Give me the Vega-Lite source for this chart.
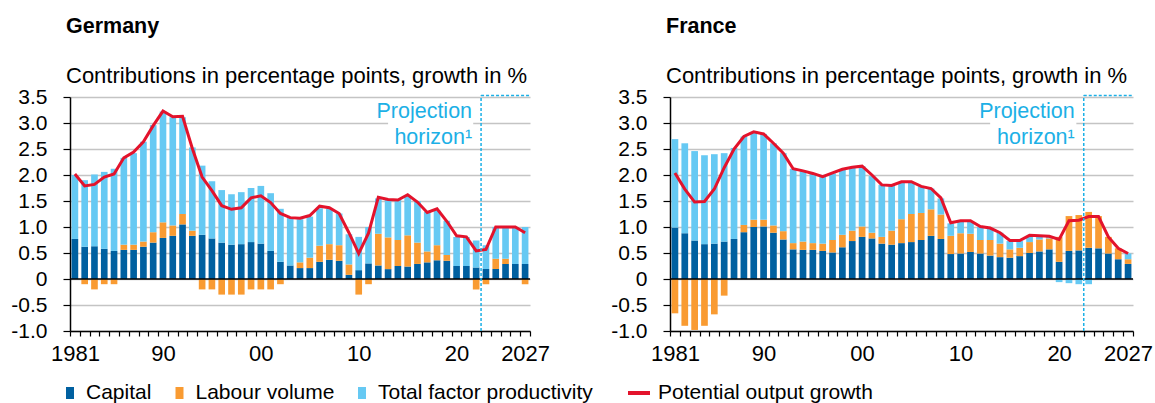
{
  "$schema": "https://vega.github.io/schema/vega-lite/v6.json",
  "background": "white",
  "padding": {"left": 10, "top": 15, "right": 0, "bottom": 0},
  "datasets": {
    "pg": [
      {"country":"Germany","year":1981,"Capital":0.77,"Labour volume":0,"Total factor productivity":1.23,"growth":2.02},
      {"country":"Germany","year":1982,"Capital":0.62,"Labour volume":-0.1,"Total factor productivity":1.28,"growth":1.79},
      {"country":"Germany","year":1983,"Capital":0.63,"Labour volume":-0.2,"Total factor productivity":1.38,"growth":1.82},
      {"country":"Germany","year":1984,"Capital":0.58,"Labour volume":-0.1,"Total factor productivity":1.48,"growth":1.96},
      {"country":"Germany","year":1985,"Capital":0.54,"Labour volume":-0.1,"Total factor productivity":1.58,"growth":2.02},
      {"country":"Germany","year":1986,"Capital":0.56,"Labour volume":0.1,"Total factor productivity":1.67,"growth":2.33},
      {"country":"Germany","year":1987,"Capital":0.56,"Labour volume":0.1,"Total factor productivity":1.76,"growth":2.44},
      {"country":"Germany","year":1988,"Capital":0.62,"Labour volume":0.1,"Total factor productivity":1.92,"growth":2.64},
      {"country":"Germany","year":1989,"Capital":0.70,"Labour volume":0.2,"Total factor productivity":2.06,"growth":2.95},
      {"country":"Germany","year":1990,"Capital":0.79,"Labour volume":0.3,"Total factor productivity":2.13,"growth":3.23},
      {"country":"Germany","year":1991,"Capital":0.83,"Labour volume":0.2,"Total factor productivity":2.08,"growth":3.12},
      {"country":"Germany","year":1992,"Capital":1.05,"Labour volume":0.2,"Total factor productivity":1.86,"growth":3.13},
      {"country":"Germany","year":1993,"Capital":0.83,"Labour volume":0.1,"Total factor productivity":1.60,"growth":2.51},
      {"country":"Germany","year":1994,"Capital":0.85,"Labour volume":-0.2,"Total factor productivity":1.33,"growth":1.96},
      {"country":"Germany","year":1995,"Capital":0.78,"Labour volume":-0.2,"Total factor productivity":1.10,"growth":1.70},
      {"country":"Germany","year":1996,"Capital":0.70,"Labour volume":-0.3,"Total factor productivity":1.01,"growth":1.41},
      {"country":"Germany","year":1997,"Capital":0.66,"Labour volume":-0.3,"Total factor productivity":0.97,"growth":1.34},
      {"country":"Germany","year":1998,"Capital":0.67,"Labour volume":-0.3,"Total factor productivity":1.00,"growth":1.37},
      {"country":"Germany","year":1999,"Capital":0.71,"Labour volume":-0.2,"Total factor productivity":1.04,"growth":1.56},
      {"country":"Germany","year":2000,"Capital":0.68,"Labour volume":-0.2,"Total factor productivity":1.11,"growth":1.60},
      {"country":"Germany","year":2001,"Capital":0.54,"Labour volume":-0.2,"Total factor productivity":1.11,"growth":1.47},
      {"country":"Germany","year":2002,"Capital":0.33,"Labour volume":-0.1,"Total factor productivity":1.02,"growth":1.26},
      {"country":"Germany","year":2003,"Capital":0.26,"Labour volume":0,"Total factor productivity":0.92,"growth":1.18},
      {"country":"Germany","year":2004,"Capital":0.21,"Labour volume":0.11,"Total factor productivity":0.83,"growth":1.17},
      {"country":"Germany","year":2005,"Capital":0.21,"Labour volume":0.20,"Total factor productivity":0.79,"growth":1.22},
      {"country":"Germany","year":2006,"Capital":0.33,"Labour volume":0.31,"Total factor productivity":0.72,"growth":1.40},
      {"country":"Germany","year":2007,"Capital":0.37,"Labour volume":0.30,"Total factor productivity":0.68,"growth":1.37},
      {"country":"Germany","year":2008,"Capital":0.35,"Labour volume":0.30,"Total factor productivity":0.61,"growth":1.26},
      {"country":"Germany","year":2009,"Capital":0.08,"Labour volume":0.20,"Total factor productivity":0.58,"growth":0.89},
      {"country":"Germany","year":2010,"Capital":0.17,"Labour volume":-0.3,"Total factor productivity":0.64,"growth":0.49},
      {"country":"Germany","year":2011,"Capital":0.30,"Labour volume":-0.1,"Total factor productivity":0.70,"growth":0.88},
      {"country":"Germany","year":2012,"Capital":0.26,"Labour volume":0.61,"Total factor productivity":0.68,"growth":1.57},
      {"country":"Germany","year":2013,"Capital":0.19,"Labour volume":0.61,"Total factor productivity":0.72,"growth":1.53},
      {"country":"Germany","year":2014,"Capital":0.25,"Labour volume":0.50,"Total factor productivity":0.78,"growth":1.52},
      {"country":"Germany","year":2015,"Capital":0.24,"Labour volume":0.60,"Total factor productivity":0.76,"growth":1.62},
      {"country":"Germany","year":2016,"Capital":0.29,"Labour volume":0.41,"Total factor productivity":0.80,"growth":1.48},
      {"country":"Germany","year":2017,"Capital":0.32,"Labour volume":0.21,"Total factor productivity":0.76,"growth":1.28},
      {"country":"Germany","year":2018,"Capital":0.36,"Labour volume":0.29,"Total factor productivity":0.67,"growth":1.35},
      {"country":"Germany","year":2019,"Capital":0.35,"Labour volume":0.11,"Total factor productivity":0.66,"growth":1.11},
      {"country":"Germany","year":2020,"Capital":0.25,"Labour volume":0,"Total factor productivity":0.56,"growth":0.83},
      {"country":"Germany","year":2021,"Capital":0.25,"Labour volume":0,"Total factor productivity":0.56,"growth":0.81},
      {"country":"Germany","year":2022,"Capital":0.22,"Labour volume":-0.2,"Total factor productivity":0.52,"growth":0.54},
      {"country":"Germany","year":2023,"Capital":0.19,"Labour volume":-0.1,"Total factor productivity":0.46,"growth":0.57},
      {"country":"Germany","year":2024,"Capital":0.19,"Labour volume":0.2,"Total factor productivity":0.61,"growth":1.0},
      {"country":"Germany","year":2025,"Capital":0.29,"Labour volume":0.1,"Total factor productivity":0.61,"growth":1.0},
      {"country":"Germany","year":2026,"Capital":0.29,"Labour volume":0,"Total factor productivity":0.71,"growth":1.0},
      {"country":"Germany","year":2027,"Capital":0.29,"Labour volume":-0.1,"Total factor productivity":0.71,"growth":0.89},
      {"country":"France","year":1981,"Capital":0.99,"Labour volume":-0.66,"Total factor productivity":1.70,"growth":2.04},
      {"country":"France","year":1982,"Capital":0.88,"Labour volume":-0.90,"Total factor productivity":1.73,"growth":1.73},
      {"country":"France","year":1983,"Capital":0.74,"Labour volume":-0.98,"Total factor productivity":1.72,"growth":1.48},
      {"country":"France","year":1984,"Capital":0.67,"Labour volume":-0.90,"Total factor productivity":1.71,"growth":1.49},
      {"country":"France","year":1985,"Capital":0.68,"Labour volume":-0.68,"Total factor productivity":1.72,"growth":1.73},
      {"country":"France","year":1986,"Capital":0.72,"Labour volume":-0.32,"Total factor productivity":1.70,"growth":2.14},
      {"country":"France","year":1987,"Capital":0.77,"Labour volume":0,"Total factor productivity":1.75,"growth":2.50},
      {"country":"France","year":1988,"Capital":0.90,"Labour volume":0.14,"Total factor productivity":1.70,"growth":2.74},
      {"country":"France","year":1989,"Capital":1.00,"Labour volume":0.14,"Total factor productivity":1.69,"growth":2.83},
      {"country":"France","year":1990,"Capital":1.01,"Labour volume":0.13,"Total factor productivity":1.65,"growth":2.79},
      {"country":"France","year":1991,"Capital":0.89,"Labour volume":0.14,"Total factor productivity":1.58,"growth":2.61},
      {"country":"France","year":1992,"Capital":0.76,"Labour volume":0.16,"Total factor productivity":1.50,"growth":2.42},
      {"country":"France","year":1993,"Capital":0.57,"Labour volume":0.12,"Total factor productivity":1.43,"growth":2.12},
      {"country":"France","year":1994,"Capital":0.56,"Labour volume":0.16,"Total factor productivity":1.36,"growth":2.08},
      {"country":"France","year":1995,"Capital":0.56,"Labour volume":0.13,"Total factor productivity":1.34,"growth":2.03},
      {"country":"France","year":1996,"Capital":0.54,"Labour volume":0.14,"Total factor productivity":1.30,"growth":1.97},
      {"country":"France","year":1997,"Capital":0.51,"Labour volume":0.24,"Total factor productivity":1.28,"growth":2.04},
      {"country":"France","year":1998,"Capital":0.61,"Labour volume":0.24,"Total factor productivity":1.25,"growth":2.11},
      {"country":"France","year":1999,"Capital":0.73,"Labour volume":0.20,"Total factor productivity":1.22,"growth":2.15},
      {"country":"France","year":2000,"Capital":0.81,"Labour volume":0.20,"Total factor productivity":1.16,"growth":2.17},
      {"country":"France","year":2001,"Capital":0.78,"Labour volume":0.11,"Total factor productivity":1.09,"growth":2.00},
      {"country":"France","year":2002,"Capital":0.68,"Labour volume":0.13,"Total factor productivity":1.00,"growth":1.81},
      {"country":"France","year":2003,"Capital":0.66,"Labour volume":0.27,"Total factor productivity":0.86,"growth":1.80},
      {"country":"France","year":2004,"Capital":0.69,"Labour volume":0.46,"Total factor productivity":0.71,"growth":1.87},
      {"country":"France","year":2005,"Capital":0.71,"Labour volume":0.54,"Total factor productivity":0.61,"growth":1.87},
      {"country":"France","year":2006,"Capital":0.75,"Labour volume":0.52,"Total factor productivity":0.51,"growth":1.78},
      {"country":"France","year":2007,"Capital":0.83,"Labour volume":0.51,"Total factor productivity":0.40,"growth":1.74},
      {"country":"France","year":2008,"Capital":0.77,"Labour volume":0.47,"Total factor productivity":0.31,"growth":1.56},
      {"country":"France","year":2009,"Capital":0.48,"Labour volume":0.35,"Total factor productivity":0.24,"growth":1.08},
      {"country":"France","year":2010,"Capital":0.49,"Labour volume":0.39,"Total factor productivity":0.22,"growth":1.12},
      {"country":"France","year":2011,"Capital":0.52,"Labour volume":0.35,"Total factor productivity":0.23,"growth":1.12},
      {"country":"France","year":2012,"Capital":0.49,"Labour volume":0.26,"Total factor productivity":0.25,"growth":1.01},
      {"country":"France","year":2013,"Capital":0.45,"Labour volume":0.30,"Total factor productivity":0.22,"growth":0.98},
      {"country":"France","year":2014,"Capital":0.42,"Labour volume":0.26,"Total factor productivity":0.21,"growth":0.89},
      {"country":"France","year":2015,"Capital":0.41,"Labour volume":0.16,"Total factor productivity":0.16,"growth":0.74},
      {"country":"France","year":2016,"Capital":0.44,"Labour volume":0.16,"Total factor productivity":0.13,"growth":0.74},
      {"country":"France","year":2017,"Capital":0.50,"Labour volume":0.21,"Total factor productivity":0.12,"growth":0.84},
      {"country":"France","year":2018,"Capital":0.53,"Labour volume":0.23,"Total factor productivity":0.06,"growth":0.83},
      {"country":"France","year":2019,"Capital":0.57,"Labour volume":0.21,"Total factor productivity":0.03,"growth":0.82},
      {"country":"France","year":2020,"Capital":0.33,"Labour volume":0.48,"Total factor productivity":-0.06,"growth":0.76},
      {"country":"France","year":2021,"Capital":0.54,"Labour volume":0.67,"Total factor productivity":-0.08,"growth":1.12},
      {"country":"France","year":2022,"Capital":0.55,"Labour volume":0.68,"Total factor productivity":-0.10,"growth":1.13},
      {"country":"France","year":2023,"Capital":0.60,"Labour volume":0.69,"Total factor productivity":-0.10,"growth":1.20},
      {"country":"France","year":2024,"Capital":0.59,"Labour volume":0.62,"Total factor productivity":0,"growth":1.20},
      {"country":"France","year":2025,"Capital":0.49,"Labour volume":0.32,"Total factor productivity":0,"growth":0.81},
      {"country":"France","year":2026,"Capital":0.38,"Labour volume":0.21,"Total factor productivity":0,"growth":0.59},
      {"country":"France","year":2027,"Capital":0.29,"Labour volume":0.09,"Total factor productivity":0.11,"growth":0.49}
    ]
  },
  "data": {"name": "pg"},
  "spacing": 60,
  "hconcat": [
    {
      "width": 460,
      "height": 234,
      "title": {"text": "Germany", "subtitle": "Contributions in percentage points, growth in %"},
      "transform": [{"filter": "datum.country == 'Germany'"}],
      "layer": [
        {
          "transform": [{"fold": ["Capital", "Labour volume", "Total factor productivity"], "as": ["component", "value"]}],
          "mark": {"type": "bar", "width": {"band": 0.68}},
          "encoding": {
            "x": {"field": "year", "type": "ordinal", "scale": {"paddingInner": 0, "paddingOuter": 0},
              "axis": {"title": null, "labelAngle": 0, "tickBand": "extent", "tickSize": 5, "labelOverlap": false, "labelPadding": 7,
                "labelExpr": "datum.value == 1981 || datum.value == 2027 ? '' + datum.value : (datum.value % 10 == 0 ? slice('' + datum.value, 2) : '')"}},
            "y": {"field": "value", "type": "quantitative", "stack": "zero", "scale": {"domain": [-1, 3.5], "nice": false},
              "axis": {"title": null, "values": [-1, -0.5, 0, 0.5, 1, 1.5, 2, 2.5, 3, 3.5], "tickSize": 7, "labelPadding": 16, "labelOverlap": false,
                "labelExpr": "datum.value == 0 ? '0' : (datum.value < 0 ? '-' : '') + format(abs(datum.value), '.1f')"}},
            "fill": {"field": "component", "type": "nominal",
              "scale": {"domain": ["Capital", "Labour volume", "Total factor productivity"], "range": ["#0060a0", "#f99b32", "#66c9f3"]},
              "legend": {"orient": "none", "legendX": -12, "legendY": 284, "direction": "horizontal", "title": null,
                "symbolType": "M-0.333,-0.5H0.333V0.5H-0.333Z", "symbolSize": 576, "symbolStrokeWidth": 0, "labelOffset": 4, "columnPadding": 15.5}},
            "order": {"field": "component", "sort": "ascending"}
          }
        },
        {
          "data": {"values": [{}]},
          "mark": {"type": "rule", "color": "white", "strokeWidth": 5},
          "encoding": {
            "x": {"datum": 2013, "type": "ordinal", "bandPosition": 0.5},
            "x2": {"datum": 2022, "bandPosition": 0.2},
            "y": {"datum": 3.0, "type": "quantitative", "scale": {"domain": [-1, 3.5], "nice": false},
              "axis": {"title": null, "values": [-1, -0.5, 0, 0.5, 1, 1.5, 2, 2.5, 3, 3.5], "tickSize": 7, "labelPadding": 16, "labelOverlap": false,
                "labelExpr": "datum.value == 0 ? '0' : (datum.value < 0 ? '-' : '') + format(abs(datum.value), '.1f')"}}
          }
        },
        {
          "data": {"values": [{}]},
          "mark": {"type": "rule", "color": "black", "strokeWidth": 1.5},
          "encoding": {"y": {"datum": 0, "type": "quantitative", "scale": {"domain": [-1, 3.5], "nice": false},
              "axis": {"title": null, "values": [-1, -0.5, 0, 0.5, 1, 1.5, 2, 2.5, 3, 3.5], "tickSize": 7, "labelPadding": 16, "labelOverlap": false,
                "labelExpr": "datum.value == 0 ? '0' : (datum.value < 0 ? '-' : '') + format(abs(datum.value), '.1f')"}}}
        },
        {
          "mark": {"type": "line", "strokeWidth": 3},
          "encoding": {
            "x": {"field": "year", "type": "ordinal"},
            "y": {"field": "growth", "type": "quantitative", "scale": {"domain": [-1, 3.5], "nice": false},
              "axis": {"title": null, "values": [-1, -0.5, 0, 0.5, 1, 1.5, 2, 2.5, 3, 3.5], "tickSize": 7, "labelPadding": 16, "labelOverlap": false,
                "labelExpr": "datum.value == 0 ? '0' : (datum.value < 0 ? '-' : '') + format(abs(datum.value), '.1f')"}},
            "stroke": {"datum": "Potential output growth", "type": "nominal", "scale": {"range": ["#e3132c"]},
              "legend": {"orient": "none", "legendX": 556, "legendY": 283, "title": null, "symbolType": "stroke", "symbolSize": 484, "symbolStrokeWidth": 4, "labelOffset": 6}}
          }
        },
        {
          "data": {"values": [{}]},
          "mark": {"type": "rule", "color": "#1cb0e6", "strokeWidth": 1.5, "strokeDash": [3, 2]},
          "encoding": {
            "x": {"datum": 2023, "type": "ordinal", "bandPosition": 0},
            "y": {"datum": -1, "type": "quantitative", "scale": {"domain": [-1, 3.5], "nice": false},
              "axis": {"title": null, "values": [-1, -0.5, 0, 0.5, 1, 1.5, 2, 2.5, 3, 3.5], "tickSize": 7, "labelPadding": 16, "labelOverlap": false,
                "labelExpr": "datum.value == 0 ? '0' : (datum.value < 0 ? '-' : '') + format(abs(datum.value), '.1f')"}},
            "y2": {"datum": 3.53}
          }
        },
        {
          "data": {"values": [{}]},
          "mark": {"type": "rule", "color": "#1cb0e6", "strokeWidth": 1.5, "strokeDash": [3, 2]},
          "encoding": {
            "x": {"datum": 2023, "type": "ordinal", "bandPosition": 0},
            "x2": {"datum": 2027, "bandPosition": 1},
            "y": {"datum": 3.53, "type": "quantitative", "scale": {"domain": [-1, 3.5], "nice": false},
              "axis": {"title": null, "values": [-1, -0.5, 0, 0.5, 1, 1.5, 2, 2.5, 3, 3.5], "tickSize": 7, "labelPadding": 16, "labelOverlap": false,
                "labelExpr": "datum.value == 0 ? '0' : (datum.value < 0 ? '-' : '') + format(abs(datum.value), '.1f')"}}
          }
        },
        {
          "data": {"values": [{}]},
          "mark": {"type": "text", "align": "right", "baseline": "top", "dx": -9, "fontSize": 21.5, "lineHeight": 26, "color": "#1cb0e6"},
          "encoding": {
            "x": {"datum": 2023, "type": "ordinal", "bandPosition": 0},
            "y": {"datum": 3.42, "type": "quantitative", "scale": {"domain": [-1, 3.5], "nice": false},
              "axis": {"title": null, "values": [-1, -0.5, 0, 0.5, 1, 1.5, 2, 2.5, 3, 3.5], "tickSize": 7, "labelPadding": 16, "labelOverlap": false,
                "labelExpr": "datum.value == 0 ? '0' : (datum.value < 0 ? '-' : '') + format(abs(datum.value), '.1f')"}},
            "text": {"value": ["Projection", "horizon¹"]}
          }
        }
      ]
    },
    {
      "width": 463,
      "height": 234,
      "title": {"text": "France", "subtitle": "Contributions in percentage points, growth in %"},
      "transform": [{"filter": "datum.country == 'France'"}],
      "layer": [
        {
          "transform": [{"fold": ["Capital", "Labour volume", "Total factor productivity"], "as": ["component", "value"]}],
          "mark": {"type": "bar", "width": {"band": 0.68}},
          "encoding": {
            "x": {"field": "year", "type": "ordinal", "scale": {"paddingInner": 0, "paddingOuter": 0},
              "axis": {"title": null, "labelAngle": 0, "tickBand": "extent", "tickSize": 5, "labelOverlap": false, "labelPadding": 7,
                "labelExpr": "datum.value == 1981 || datum.value == 2027 ? '' + datum.value : (datum.value % 10 == 0 ? slice('' + datum.value, 2) : '')"}},
            "y": {"field": "value", "type": "quantitative", "stack": "zero", "scale": {"domain": [-1, 3.5], "nice": false},
              "axis": {"title": null, "values": [-1, -0.5, 0, 0.5, 1, 1.5, 2, 2.5, 3, 3.5], "tickSize": 7, "labelPadding": 16, "labelOverlap": false,
                "labelExpr": "datum.value == 0 ? '0' : (datum.value < 0 ? '-' : '') + format(abs(datum.value), '.1f')"}},
            "fill": {"field": "component", "type": "nominal",
              "scale": {"domain": ["Capital", "Labour volume", "Total factor productivity"], "range": ["#0060a0", "#f99b32", "#66c9f3"]},
              "legend": {"orient": "none", "legendX": -12, "legendY": 284, "direction": "horizontal", "title": null,
                "symbolType": "M-0.333,-0.5H0.333V0.5H-0.333Z", "symbolSize": 576, "symbolStrokeWidth": 0, "labelOffset": 4, "columnPadding": 15.5}},
            "order": {"field": "component", "sort": "ascending"}
          }
        },
        {
          "data": {"values": [{}]},
          "mark": {"type": "rule", "color": "white", "strokeWidth": 5},
          "encoding": {
            "x": {"datum": 2013, "type": "ordinal", "bandPosition": 0.5},
            "x2": {"datum": 2022, "bandPosition": 0.25},
            "y": {"datum": 3.0, "type": "quantitative", "scale": {"domain": [-1, 3.5], "nice": false},
              "axis": {"title": null, "values": [-1, -0.5, 0, 0.5, 1, 1.5, 2, 2.5, 3, 3.5], "tickSize": 7, "labelPadding": 16, "labelOverlap": false,
                "labelExpr": "datum.value == 0 ? '0' : (datum.value < 0 ? '-' : '') + format(abs(datum.value), '.1f')"}}
          }
        },
        {
          "data": {"values": [{}]},
          "mark": {"type": "rule", "color": "black", "strokeWidth": 1.5},
          "encoding": {"y": {"datum": 0, "type": "quantitative", "scale": {"domain": [-1, 3.5], "nice": false},
              "axis": {"title": null, "values": [-1, -0.5, 0, 0.5, 1, 1.5, 2, 2.5, 3, 3.5], "tickSize": 7, "labelPadding": 16, "labelOverlap": false,
                "labelExpr": "datum.value == 0 ? '0' : (datum.value < 0 ? '-' : '') + format(abs(datum.value), '.1f')"}}}
        },
        {
          "mark": {"type": "line", "strokeWidth": 3},
          "encoding": {
            "x": {"field": "year", "type": "ordinal"},
            "y": {"field": "growth", "type": "quantitative", "scale": {"domain": [-1, 3.5], "nice": false},
              "axis": {"title": null, "values": [-1, -0.5, 0, 0.5, 1, 1.5, 2, 2.5, 3, 3.5], "tickSize": 7, "labelPadding": 16, "labelOverlap": false,
                "labelExpr": "datum.value == 0 ? '0' : (datum.value < 0 ? '-' : '') + format(abs(datum.value), '.1f')"}},
            "stroke": {"datum": "Potential output growth", "type": "nominal", "scale": {"range": ["#e3132c"]},
              "legend": {"orient": "none", "legendX": 556, "legendY": 283, "title": null, "symbolType": "stroke", "symbolSize": 484, "symbolStrokeWidth": 4, "labelOffset": 6}}
          }
        },
        {
          "data": {"values": [{}]},
          "mark": {"type": "rule", "color": "#1cb0e6", "strokeWidth": 1.5, "strokeDash": [3, 2]},
          "encoding": {
            "x": {"datum": 2023, "type": "ordinal", "bandPosition": 0},
            "y": {"datum": -1, "type": "quantitative", "scale": {"domain": [-1, 3.5], "nice": false},
              "axis": {"title": null, "values": [-1, -0.5, 0, 0.5, 1, 1.5, 2, 2.5, 3, 3.5], "tickSize": 7, "labelPadding": 16, "labelOverlap": false,
                "labelExpr": "datum.value == 0 ? '0' : (datum.value < 0 ? '-' : '') + format(abs(datum.value), '.1f')"}},
            "y2": {"datum": 3.53}
          }
        },
        {
          "data": {"values": [{}]},
          "mark": {"type": "rule", "color": "#1cb0e6", "strokeWidth": 1.5, "strokeDash": [3, 2]},
          "encoding": {
            "x": {"datum": 2023, "type": "ordinal", "bandPosition": 0},
            "x2": {"datum": 2027, "bandPosition": 1},
            "y": {"datum": 3.53, "type": "quantitative", "scale": {"domain": [-1, 3.5], "nice": false},
              "axis": {"title": null, "values": [-1, -0.5, 0, 0.5, 1, 1.5, 2, 2.5, 3, 3.5], "tickSize": 7, "labelPadding": 16, "labelOverlap": false,
                "labelExpr": "datum.value == 0 ? '0' : (datum.value < 0 ? '-' : '') + format(abs(datum.value), '.1f')"}}
          }
        },
        {
          "data": {"values": [{}]},
          "mark": {"type": "text", "align": "right", "baseline": "top", "dx": -9, "fontSize": 21.5, "lineHeight": 26, "color": "#1cb0e6"},
          "encoding": {
            "x": {"datum": 2023, "type": "ordinal", "bandPosition": 0},
            "y": {"datum": 3.42, "type": "quantitative", "scale": {"domain": [-1, 3.5], "nice": false},
              "axis": {"title": null, "values": [-1, -0.5, 0, 0.5, 1, 1.5, 2, 2.5, 3, 3.5], "tickSize": 7, "labelPadding": 16, "labelOverlap": false,
                "labelExpr": "datum.value == 0 ? '0' : (datum.value < 0 ? '-' : '') + format(abs(datum.value), '.1f')"}},
            "text": {"value": ["Projection", "horizon¹"]}
          }
        }
      ]
    }
  ],
  "config": {
    "font": "Liberation Sans",
    "view": {"stroke": null},
    "title": {"anchor": "start", "frame": "group", "fontSize": 21.5, "fontWeight": "bold", "color": "black", "subtitleFontSize": 22, "subtitleColor": "black", "subtitlePadding": 29, "offset": -1, "dx": -4},
    "axis": {"labelColor": "black", "domainColor": "black", "tickColor": "black", "domainWidth": 1.5, "tickWidth": 1.2, "labelFont": "Liberation Sans"},
    "axisX": {"labelFontSize": 22, "grid": false},
    "axisY": {"labelFontSize": 21, "grid": true, "gridColor": "#c4c4c4", "gridWidth": 1.5},
    "legend": {"labelFontSize": 21, "labelColor": "black", "labelFont": "Liberation Sans", "labelLimit": 400}
  }
}
